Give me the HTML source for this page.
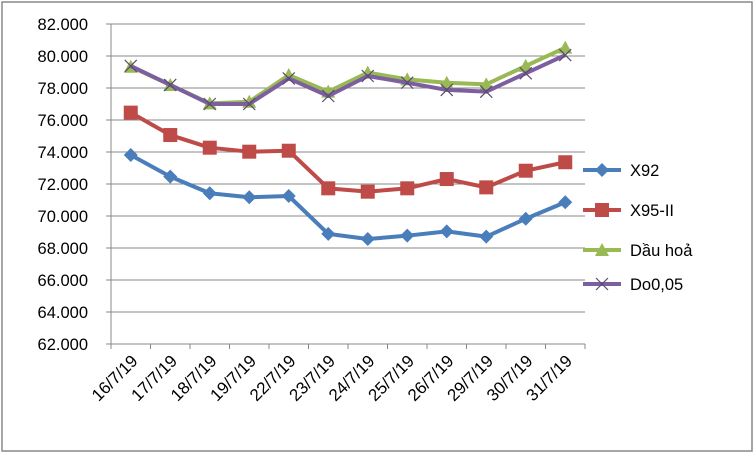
<!DOCTYPE html>
<html><head><meta charset="utf-8"><style>
body{margin:0;background:#fff;}
svg{display:block;font-family:"Liberation Sans",sans-serif;}
</style></head><body>
<svg id="chart" width="755" height="454">
<rect x="2" y="2" width="750" height="449" fill="#fff" stroke="#888" stroke-width="1.5"/>
<g id="grid"></g><g id="axes"></g><g id="series"></g><g id="legend"></g>
</svg>
<script>
const categories=["16/7/19","17/7/19","18/7/19","19/7/19","22/7/19","23/7/19","24/7/19","25/7/19","26/7/19","29/7/19","30/7/19","31/7/19"];
const seriesNames=["X92","X95-II","Dầu hoả","Do0,05"];
const x92=[73.81,72.46,71.42,71.17,71.25,68.88,68.56,68.77,69.04,68.71,69.83,70.86];
const x95=[76.46,75.06,74.27,74.02,74.08,71.73,71.52,71.73,72.31,71.79,72.83,73.36];
const dauhoa=[79.33,78.19,77.04,77.14,78.81,77.77,78.96,78.54,78.33,78.23,79.38,80.52];
const do005=[79.38,78.19,77.0,77.0,78.6,77.5,78.75,78.33,77.88,77.77,78.92,80.06];
const yTicks=[62,64,66,68,70,72,74,76,78,80,82];
const yTickLabels=["62.000","64.000","66.000","68.000","70.000","72.000","74.000","76.000","78.000","80.000","82.000"];
const NS="http://www.w3.org/2000/svg";
const L=111,R=585,T=24,B=344,yMin=62,yMax=82;
const bw=(R-L)/categories.length;
const xs=i=>L+bw*(i+0.5);
const ys=v=>B-(v-yMin)/(yMax-yMin)*(B-T);
function mk(tag,attrs,parent){const e=document.createElementNS(NS,tag);for(const k in attrs)e.setAttribute(k,attrs[k]);parent.appendChild(e);return e;}
const grid=document.getElementById('grid'),axes=document.getElementById('axes'),ser=document.getElementById('series'),leg=document.getElementById('legend');
yTicks.forEach((t,i)=>{
 const y=ys(t);
 if(i>0){const g=mk('line',{x1:L,x2:R,y1:y,y2:y,stroke:'#888','stroke-width':1},grid);
 
 }
 const tk=mk('line',{x1:L-5,x2:L,y1:y,y2:y,stroke:'#888'},axes);
 
 
 const tx=mk('text',{x:L-23,y:y+6,'text-anchor':'end','font-size':16.5,fill:'#000'},axes);
 tx.textContent=yTickLabels[i];
 
 
});
const ya=mk('line',{x1:L,x2:L,y1:T,y2:B,stroke:'#888'},axes);


const xa=mk('line',{x1:L,x2:R,y1:B,y2:B,stroke:'#888'},axes);


for(let i=0;i<=categories.length;i++){
 const x=L+bw*i;
 const tk=mk('line',{x1:x,x2:x,y1:B,y2:B+5,stroke:'#888'},axes);
 
 
}
categories.forEach((c,i)=>{
 const x=xs(i)+8,y=B+18;
 const t=mk('text',{x:x,y:y,'text-anchor':'end','font-size':17,fill:'#000',transform:`rotate(-45 ${x} ${y})`},axes);
 t.textContent=c;
 
 
});
const colors=['#4a7ebb','#be4b48','#98b954','#7d5fa0'];
const data=[x92,x95,dauhoa,do005];
function marker(type,x,y,c,p){
 let e;
 if(type===0)e=mk('polygon',{points:`${x},${y-7} ${x+7},${y} ${x},${y+7} ${x-7},${y}`,fill:c},p);
 else if(type===1)e=mk('rect',{x:x-7,y:y-7,width:14,height:14,fill:c},p);
 else if(type===2)e=mk('polygon',{points:`${x},${y-7} ${x+7},${y+6} ${x-7},${y+6}`,fill:c},p);
 else e=mk('path',{d:`M${x-6} ${y-6}L${x+6} ${y+6}M${x-6} ${y+6}L${x+6} ${y-6}`,stroke:c,'stroke-width':1.2,fill:'none'},p);
 return e;
}
data.forEach((arr,s)=>{
 const g=mk('g',{},ser);
 
 
 const pl=mk('polyline',{points:arr.map((v,i)=>xs(i)+','+ys(v)).join(' '),fill:'none',stroke:colors[s],'stroke-width':4,'stroke-linejoin':'round'},g);
 
 
 arr.forEach((v,i)=>{
  const m=marker(s,xs(i),ys(v),s===3?'#5a4a70':colors[s],g);
  
  
 });
});
const legY=[170,210,250,284];
seriesNames.forEach((n,s)=>{
 const g=mk('g',{},leg);
 
 
 const y=legY[s];
 mk('line',{x1:583,x2:621,y1:y,y2:y,stroke:colors[s],'stroke-width':4},g);
 marker(s,602,y,s===3?'#5a4a70':colors[s],g);
 const t=mk('text',{x:630,y:y+6,'font-size':16.5,fill:'#000'},g);
 t.textContent=n;
});
</script>
</body></html>
